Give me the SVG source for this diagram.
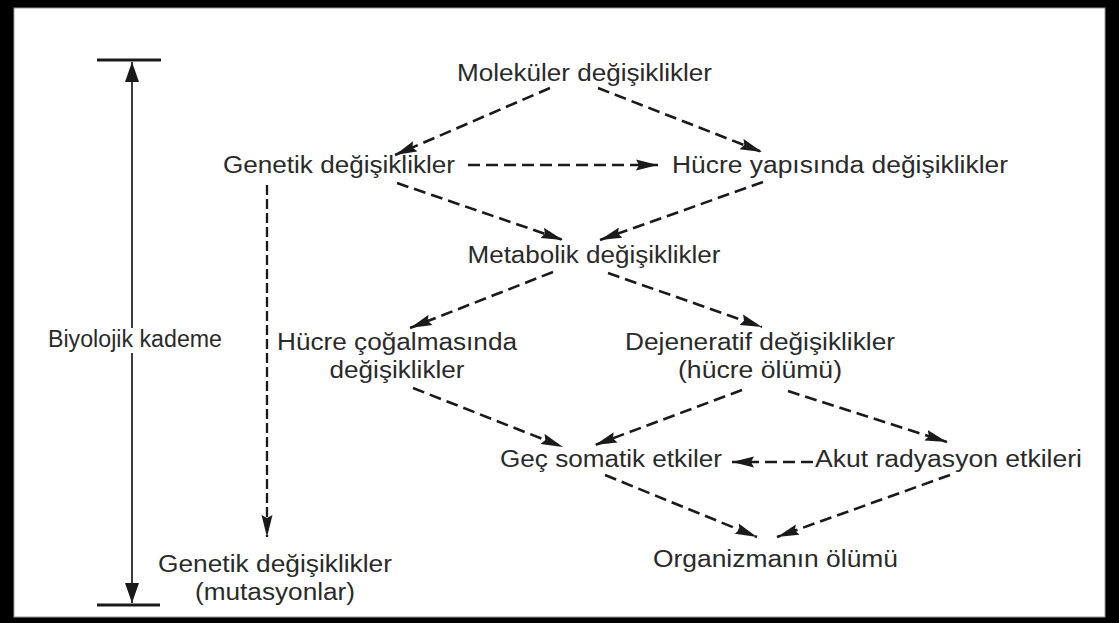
<svg xmlns="http://www.w3.org/2000/svg" width="1119" height="623" viewBox="0 0 1119 623">
<style>
.t{font-family:"Liberation Sans",Arial,sans-serif;font-size:23px;fill:#2a2a2a;text-anchor:middle}
.d{fill:none;stroke:#1a1a1a;stroke-width:2.6;stroke-dasharray:12 6;marker-end:url(#ah)}
.dv{fill:none;stroke:#1a1a1a;stroke-width:2.3;stroke-dasharray:10 4;marker-end:url(#ah)}
.s{fill:none;stroke:#1a1a1a;stroke-width:1.7}
.bar{stroke:#1a1a1a;stroke-width:3}
</style>
<defs>
<marker id="ah" markerUnits="userSpaceOnUse" markerWidth="24" markerHeight="12" refX="22" refY="5.5" orient="auto" viewBox="0 0 24 11">
<path d="M0,0 L22,5.5 L0,11 L3,5.5 z" fill="#1a1a1a"/>
</marker>
<marker id="sa" markerUnits="userSpaceOnUse" markerWidth="22" markerHeight="16" refX="20" refY="7" orient="auto" viewBox="0 0 22 14">
<path d="M0,0 L20,7 L0,14 z" fill="#1a1a1a"/>
</marker>
</defs>
<rect x="0" y="0" width="1119" height="623" fill="#000"/>
<rect x="14" y="8" width="1091" height="609" fill="#fff" stroke="#999" stroke-width="1"/>

<g id="scale">
<line class="bar" x1="97" y1="60" x2="161" y2="60"/>
<line class="bar" x1="97" y1="605" x2="160" y2="605"/>
<line class="s" x1="132" y1="328" x2="132" y2="62" marker-end="url(#sa)"/>
<line class="s" x1="132" y1="353" x2="132" y2="603" marker-end="url(#sa)"/>
<text class="t" x="135" y="347" textLength="174" lengthAdjust="spacingAndGlyphs">Biyolojik kademe</text>
</g>

<g id="connectors">
<path class="d" d="M550,88 L395,155"/>
<path class="d" d="M598,88 L762,152"/>
<path class="d" d="M468,165 L658,165"/>
<path class="d" d="M397,183 L563,240"/>
<path class="d" d="M763,182 L600,240"/>
<path class="dv" d="M267,185 L267,537"/>
<path class="d" d="M553,272 L410,328"/>
<path class="d" d="M608,273 L762,327"/>
<path class="d" d="M413,388 L563,447"/>
<path class="d" d="M742,390 L595,445"/>
<path class="d" d="M788,391 L947,442"/>
<path class="d" d="M813,462 L732,462"/>
<path class="d" d="M605,475 L757,537"/>
<path class="d" d="M950,475 L777,537"/>
</g>

<g id="n-molekuler"><text class="t" x="584.5" y="81" textLength="255" lengthAdjust="spacingAndGlyphs">Moleküler değişiklikler</text></g>
<g id="n-genetik"><text class="t" x="339" y="173" textLength="232" lengthAdjust="spacingAndGlyphs">Genetik değişiklikler</text></g>
<g id="n-hucre-yapisi"><text class="t" x="840" y="173" textLength="336" lengthAdjust="spacingAndGlyphs">Hücre yapısında değişiklikler</text></g>
<g id="n-metabolik"><text class="t" x="594" y="263" textLength="253" lengthAdjust="spacingAndGlyphs">Metabolik değişiklikler</text></g>
<g id="n-cogalma">
<text class="t" x="397" y="350" textLength="240" lengthAdjust="spacingAndGlyphs">Hücre çoğalmasında</text>
<text class="t" x="397" y="378" textLength="135" lengthAdjust="spacingAndGlyphs">değişiklikler</text>
</g>
<g id="n-dejeneratif">
<text class="t" x="760" y="350" textLength="270" lengthAdjust="spacingAndGlyphs">Dejeneratif değişiklikler</text>
<text class="t" x="760" y="378" textLength="164" lengthAdjust="spacingAndGlyphs">(hücre ölümü)</text>
</g>
<g id="n-gec"><text class="t" x="611" y="467" textLength="222" lengthAdjust="spacingAndGlyphs">Geç somatik etkiler</text></g>
<g id="n-akut"><text class="t" x="948.5" y="467" textLength="267" lengthAdjust="spacingAndGlyphs">Akut radyasyon etkileri</text></g>
<g id="n-organizma"><text class="t" x="775.5" y="567" textLength="245" lengthAdjust="spacingAndGlyphs">Organizmanın ölümü</text></g>
<g id="n-mutasyon">
<text class="t" x="275" y="572" textLength="234" lengthAdjust="spacingAndGlyphs">Genetik değişiklikler</text>
<text class="t" x="275" y="600" textLength="160" lengthAdjust="spacingAndGlyphs">(mutasyonlar)</text>
</g>
</svg>
